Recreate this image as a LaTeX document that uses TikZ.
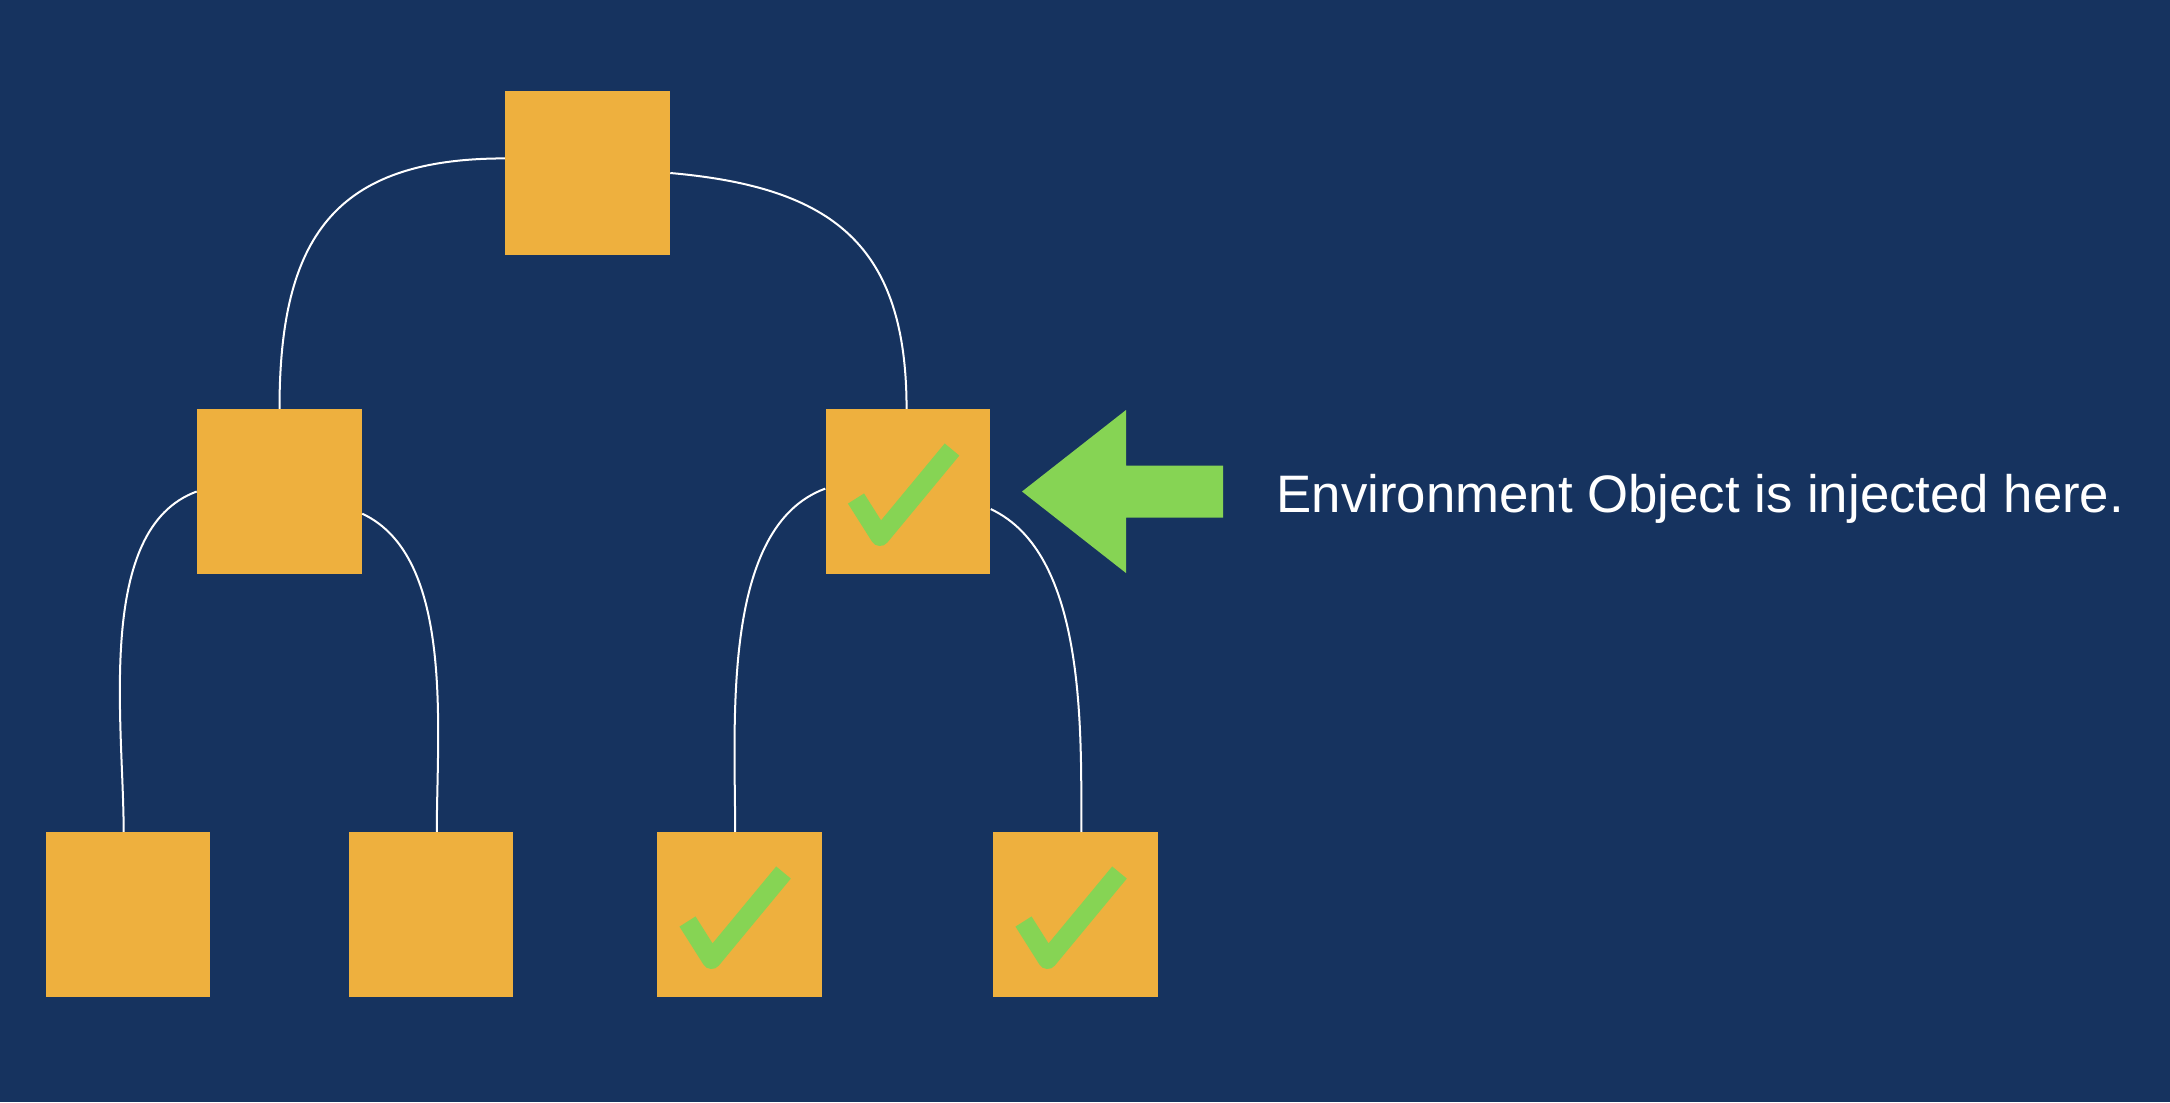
\documentclass[tikz,border=0pt]{standalone}
\usepackage{fontspec}
\setmainfont{Liberation Sans}
\usepackage{tikz}
\usetikzlibrary{positioning}
\definecolor{navy}{RGB}{22,51,95}
\definecolor{boxorange}{RGB}{238,176,62}
\definecolor{okgreen}{RGB}{134,212,84}
\tikzstyle{box} = [rectangle, minimum size=1.64cm, inner sep=0pt, fill=boxorange]
\tikzstyle{link} = [draw=white, line width=0.02cm]
\tikzstyle{check} = [draw=okgreen, line width=0.19cm, line join=round]
\newcommand{\checkmk}[1]{\draw [check] ([shift={(-52,7)}]#1.center) -- ([shift={(-28,45)}]#1.center) -- ([shift={(44,-42)}]#1.center);}

\begin{document}
\begin{tikzpicture}[x=0.01cm, y=-0.01cm]

\fill [navy] (0,0) rectangle (2170,1102);

\node (root) [box] at (587.5,173) {};
\node (midl) [box] at (279.5,491.5) {};
\node (midr) [box] at (908,491.5) {};
\node (ll) [box] at (128,914.5) {};
\node (lr) [box] at (431,914.5) {};
\node (rl) [box] at (739.5,914.5) {};
\node (rr) [box] at (1075.5,914.5) {};

\draw [link] (root.170) to[out=180, in=90, looseness=1.3] (midl.north);
\draw [link] (root.east) to[out=-5, in=90, looseness=1.25] (midr.91);
\draw [link] (midl.west) to[out=200, in=90, looseness=0.8] (ll.93);
\draw [link] (midl.-15) to[out=-25, in=90, looseness=0.8] (lr.86);
\draw [link] (midr.178) to[out=200, in=90, looseness=0.8] (rl.93);
\draw [link] (midr.-12) to[out=-25, in=90, looseness=0.8] (rr.86);

\checkmk{midr}
\checkmk{rl}
\checkmk{rr}

% pointer to the injected node
\fill [okgreen] (1022,491.5) -- (1126,410) -- (1126,465.5) -- (1223,465.5) -- (1223,517.5) -- (1126,517.5) -- (1126,573) -- cycle;

\node (note) [anchor=base west, inner sep=0pt, text=white, font=\fontsize{15}{18}\selectfont] at (1276,512) {Environment Object is injected here.};

\end{tikzpicture}
\end{document}
